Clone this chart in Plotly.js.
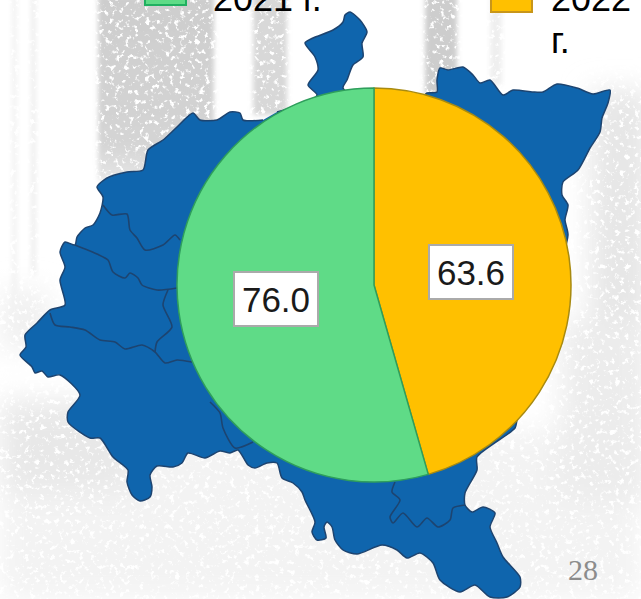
<!DOCTYPE html>
<html><head><meta charset="utf-8">
<script src="https://cdn.plot.ly/plotly-3.0.1.min.js"></script>
<style>html,body{margin:0;padding:0;background:#fff;overflow:hidden}#c{position:absolute;left:0;top:0;width:641px;height:599px}#bg{position:absolute;left:0;top:0}</style>
</head><body>
<svg id="bg" width="641" height="599" xmlns="http://www.w3.org/2000/svg">
<defs>
<filter id="soft" x="-20%" y="-20%" width="140%" height="140%"><feGaussianBlur stdDeviation="2.5"/></filter>
<filter id="softer" x="-30%" y="-30%" width="160%" height="160%"><feGaussianBlur stdDeviation="14"/></filter>
<filter id="speck" x="0" y="0" width="100%" height="100%">
<feTurbulence type="fractalNoise" baseFrequency="0.2" numOctaves="3" seed="7"/>
<feColorMatrix type="matrix" values="0 0 0 0 1  0 0 0 0 1  0 0 0 0 1  7 0 0 0 -4"/>
<feGaussianBlur stdDeviation="0.5"/>
</filter>
<linearGradient id="fade" x1="0" y1="0" x2="0" y2="1"><stop offset="0" stop-color="#cdcdcd"/><stop offset="0.8" stop-color="#d4d4d4"/><stop offset="1" stop-color="#e6e6e6"/></linearGradient>
</defs>
<rect width="641" height="599" fill="#fff"/>
<g filter="url(#softer)">
<rect x="0" y="430" width="641" height="169" fill="#f3f3f3"/>
<rect x="0" y="400" width="130" height="90" fill="#e8e8e8"/>
<rect x="590" y="90" width="60" height="240" fill="#e6e6e6"/>
<rect x="560" y="320" width="90" height="180" fill="#ececec"/>
<rect x="0" y="290" width="50" height="60" fill="#f0f0f0"/>
</g>
<g filter="url(#soft)">
<rect x="98" y="-5" width="116" height="185" fill="url(#fade)"/>
<rect x="253" y="-5" width="34" height="120" fill="#d8d8d8"/>
<rect x="425" y="-5" width="32" height="100" fill="#cdcdcd"/>
<rect x="12" y="-5" width="5" height="330" fill="#f2f2f2"/>
<rect x="31" y="-5" width="5" height="280" fill="#eeeeee"/>
<rect x="490" y="-5" width="12" height="90" fill="#efefef"/>
</g>
<rect width="641" height="599" filter="url(#speck)"/>
</svg>
<div id="c"></div>
<script>
const legendLabels = ['2021 г.', '2022 г.'];
const sliceLabels = ['2022 г.', '2021 г.'];
const sliceValues = [63.6, 76.0];
const sliceColors = ['#ffc000', '#5fdb87'];
const sliceEdges = ['#a88a10', '#2f9e5c'];
const pageNumber = '28';

const mapX = [277,300,317,308,318,315,305,313,333,343,345,350,360,367,362,363,353,347,343,360,420,427,437,437,440,448,463,473,480,490,503,513,533,543,557,577,593,610,608,602,600,590,578,563,562,568,565,568,550,517,515,477,477,465,465,472,483,495,490,497,503,520,520,507,490,475,460,440,433,420,407,397,382,357,343,335,332,327,324,326,317,312,315,305,302,293,282,277,267,255,248,238,230,220,205,188,182,173,157,150,152,150,140,132,127,128,113,100,90,68,68,80,60,48,42,35,32,20,26,25,37,50,65,60,65,60,65,75,77,85,93,100,103,97,107,127,143,148,163,177,193,200,217,230,240,243,263];
const mapY = [112,105,95,85,70,57,43,38,30,22,15,12,20,32,43,57,65,80,88,100,100,93,92,80,68,70,67,75,83,80,95,90,92,92,84,88,94,90,103,118,132,148,170,182,195,205,220,235,300,420,428,457,470,493,505,512,507,513,527,543,557,577,587,597,597,585,592,580,563,553,558,550,545,554,550,540,527,522,527,538,540,532,522,500,492,483,478,463,463,468,465,450,453,451,458,453,463,467,466,475,487,497,501,495,482,470,457,438,438,422,412,395,375,377,371,373,367,355,347,335,323,310,305,280,267,252,242,245,237,228,225,213,197,187,178,172,170,150,140,127,113,120,120,112,113,120,120];
const borderAX = [103,112,127,130,137,145,163,175,180];
const borderAY = [205,215,214,230,238,250,245,235,240];
const borderBX = [75,97,108,113,125,130,138,142,157,177];
const borderBY = [245,254,260,272,278,273,278,285,290,288];
const borderCX = [168,163,172,157,155];
const borderCY = [290,305,327,342,352];
const borderDX = [50,55,70,85,100,115,125,142,155,165,177,192];
const borderDY = [313,325,327,330,340,342,349,345,352,363,360,362];
const borderEX = [210,220,223,235,253];
const borderEY = [402,413,428,448,442];
const borderFX = [395,392,400,390,393,403,417,427,438,450,453,465];
const borderFY = [482,492,500,517,523,513,527,518,527,520,508,505];

const W = 641, H = 599;
const mapColor = '#0f65ad', edge = '#1d4470';
const borders = [[borderAX,borderAY],[borderBX,borderBY],[borderCX,borderCY],[borderDX,borderDY],[borderEX,borderEY],[borderFX,borderFY]];
const traces = [
  {type:'scatter',mode:'lines',x:mapX,y:mapY,fill:'toself',fillcolor:mapColor,
   line:{color:edge,width:1.5,shape:'spline',smoothing:0.7},hoverinfo:'skip',showlegend:false},
  ...borders.map(b=>({type:'scatter',mode:'lines',x:b[0],y:b[1],
    line:{color:edge,width:1.6,shape:'spline',smoothing:0.7},hoverinfo:'skip',showlegend:false})),
  {type:'pie',labels:sliceLabels,values:sliceValues,sort:false,direction:'clockwise',rotation:0,
   textinfo:'none',hoverinfo:'label+value',showlegend:false,
   marker:{colors:sliceColors,line:{color:sliceEdges,width:1.5}},
   domain:{x:[177/W,571/W],y:[1-482/H,1-88/H]}}
];

const shapes = [
  {type:'rect',layer:'above',xref:'x',yref:'y',x0:145,x1:186,y0:-8,y1:5,fillcolor:sliceColors[1],line:{color:'#20b060',width:2}},
  {type:'rect',layer:'above',xref:'x',yref:'y',x0:491,x1:532,y0:-8,y1:12,fillcolor:sliceColors[0],line:{color:'#c8961a',width:2}}
];

function txt(text,x,y,size,opts){return Object.assign({text,x,y,xref:'x',yref:'y',showarrow:false,xanchor:'left',yanchor:'bottom',
  font:{family:'"Liberation Sans",Arial,sans-serif',size,color:'#000'},borderpad:0,borderwidth:0},opts||{});}
function box(v,x,y){return {text:v.toFixed(1),x,y,xref:'x',yref:'y',showarrow:false,xanchor:'center',yanchor:'middle',
  width:82,height:52,align:'center',valign:'middle',bgcolor:'#fff',bordercolor:'#aaa',borderwidth:2,borderpad:0,
  font:{family:'"Liberation Sans",Arial,sans-serif',size:35,color:'#1a1a1a'}};}
const l22 = legendLabels[1].split(' ');
const annotations = [
  txt(legendLabels[0],213,19,36),
  txt(l22[0],551,19,36),
  txt(l22[1],551,61,36),
  box(sliceValues[0],471,272),
  box(sliceValues[1],276,299),
  txt(pageNumber,568,586,30,{font:{family:'"Liberation Serif",serif',size:30,color:'#8c8c8c'}})
];
const layout = {width:W,height:H,margin:{l:0,r:0,t:0,b:0},paper_bgcolor:'rgba(0,0,0,0)',plot_bgcolor:'rgba(0,0,0,0)',showlegend:false,
  xaxis:{range:[0,W],visible:false,fixedrange:true},
  yaxis:{range:[H,0],visible:false,fixedrange:true},
  shapes,annotations};
Plotly.newPlot('c',traces,layout,{displayModeBar:false,staticPlot:true});
</script></body></html>
